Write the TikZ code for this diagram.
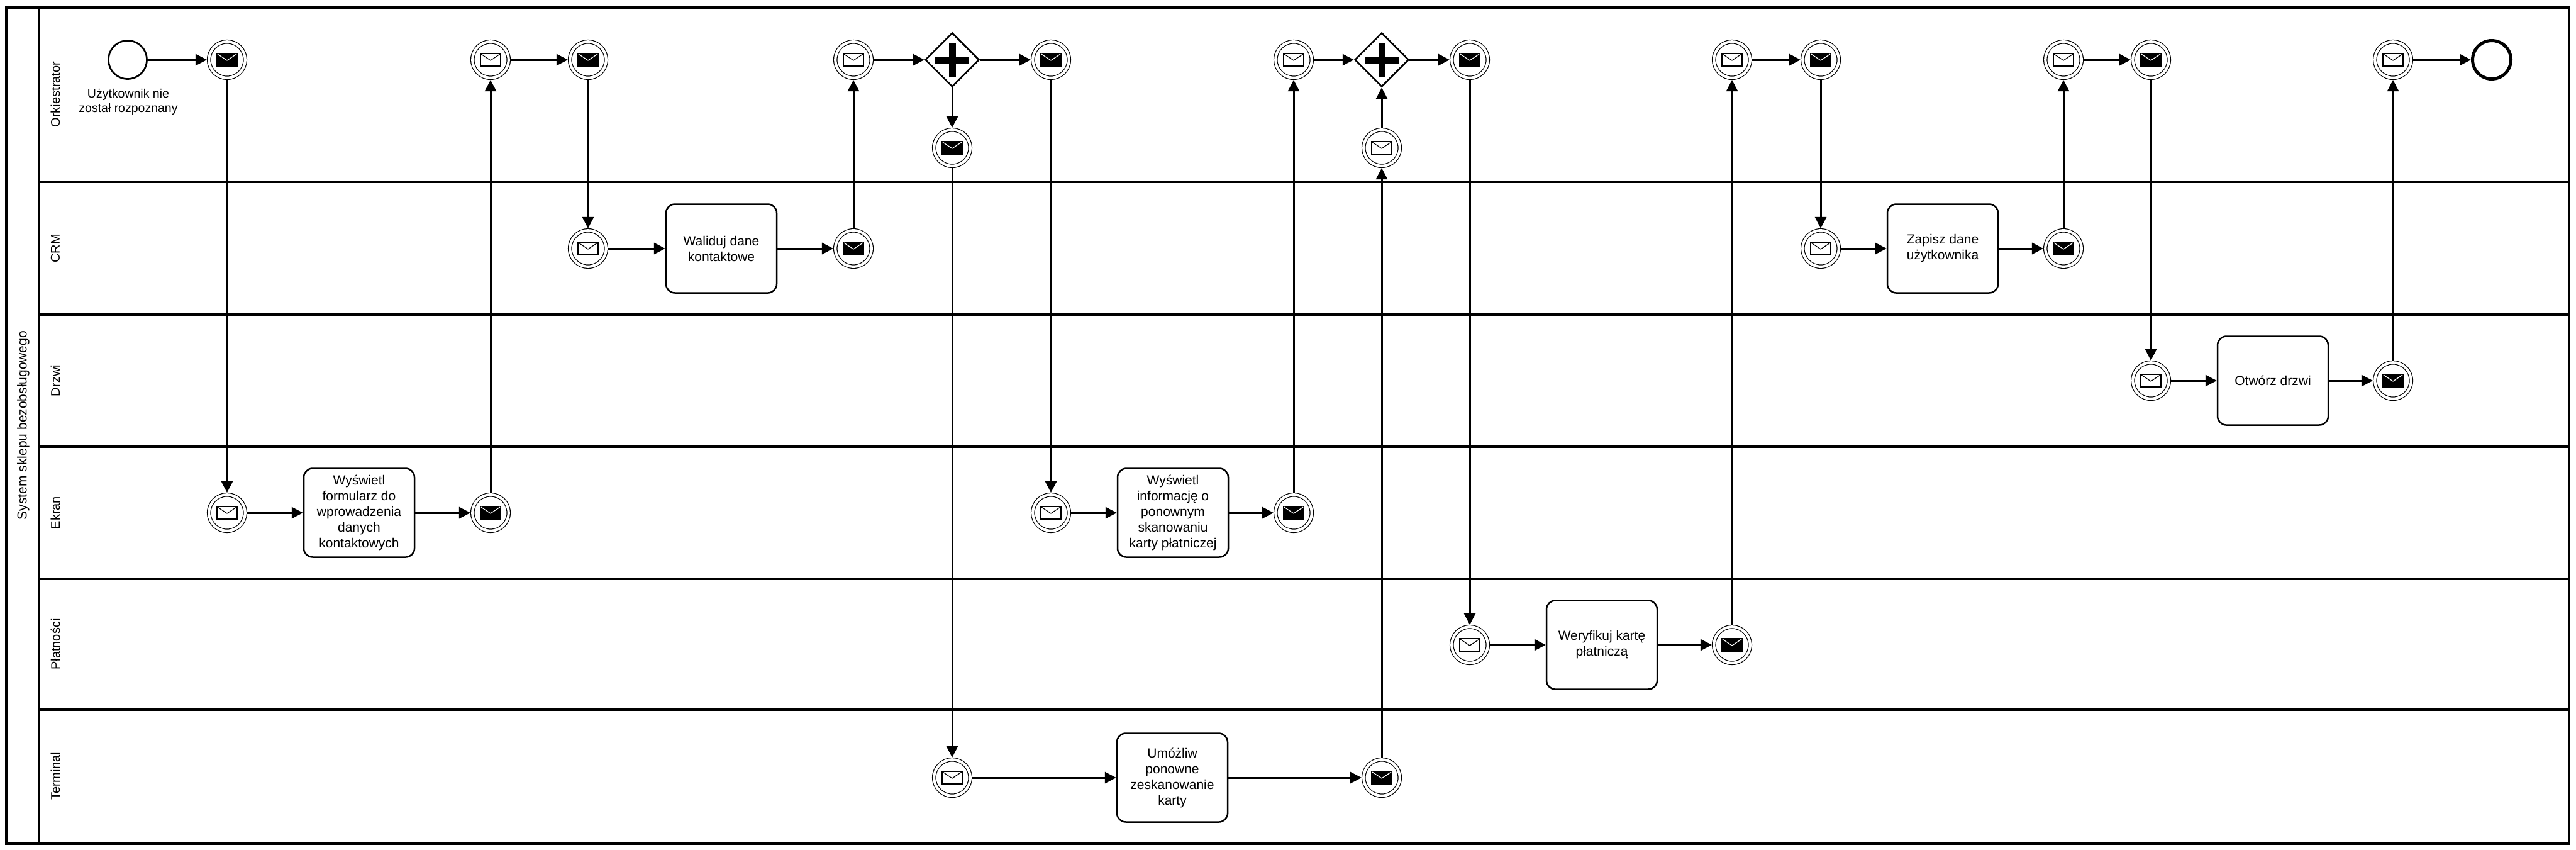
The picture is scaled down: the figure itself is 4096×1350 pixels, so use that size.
\documentclass[tikz,border=0pt]{standalone}
\usepackage{fontspec}
\setmainfont{Liberation Sans}
\usetikzlibrary{arrows.meta,shapes.geometric}
\newcommand{\envelope}[2]{%
  \begin{scope}[shift={(path picture bounding box.center)}]
    \filldraw[fill=#1,draw=black,line width=1.2pt] (-16,-10) rectangle (16,10);
    \draw[#2,line width=1.2pt] (-15,-9) -- (0,1) -- (15,-9);
  \end{scope}}
\newcommand{\gateplus}{%
  \begin{scope}[shift={(path picture bounding box.center)}]
    \fill[black] (-5.5,-27) rectangle (5.5,27);
    \fill[black] (-27,-5.5) rectangle (27,5.5);
  \end{scope}}
\tikzset{
  evt/.style={circle,draw,line width=1.2pt,double,double distance=4.2pt,minimum size=57.5pt,inner sep=0pt,outer sep=3.3pt},
  msgin/.style={evt,path picture={\envelope{white}{black}}},
  msgout/.style={evt,path picture={\envelope{black}{white}}},
  startevt/.style={circle,draw,line width=2.7pt,minimum size=61pt,inner sep=0pt},
  endevt/.style={circle,draw,line width=5pt,minimum size=61pt,inner sep=0pt},
  gate/.style={diamond,draw,line width=2.5pt,minimum width=86pt,minimum height=86pt,inner sep=0pt,path picture={\gateplus}},
  task/.style={rectangle,draw,rounded corners=14pt,line width=2.5pt,minimum width=176pt,minimum height=141pt,align=center,font=\fontsize{21}{25}\selectfont},
  flow/.style={-{Triangle[length=18pt,width=18pt]},line width=3pt},
  lanelbl/.style={rotate=90,font=\fontsize{20}{24}\selectfont},
  pool/.style={line width=3.5pt},
}
\begin{document}
\begin{tikzpicture}[x=1pt,y=-1pt]
  \useasboundingbox (0,0) rectangle (4096,1350);
  % pool and lanes
  \draw[pool,line width=4pt] (10,12) rectangle (4085,1341);
  \draw[pool] (62,12) -- (62,1341);
  \draw[pool] (62,289) -- (4085,289);
  \draw[pool] (62,500) -- (4085,500);
  \draw[pool] (62,710) -- (4085,710);
  \draw[pool] (62,920) -- (4085,920);
  \draw[pool] (62,1128) -- (4085,1128);
  \node[lanelbl,font=\fontsize{21}{25}\selectfont] (poollbl) at (37,676) {System sklepu bezobsługowego};
  \node[lanelbl] (lorch) at (88,150) {Orkiestrator};
  \node[lanelbl] (lcrm) at (88,395) {CRM};
  \node[lanelbl] (ldrzwi) at (88,605) {Drzwi};
  \node[lanelbl] (lekran) at (88,815) {Ekran};
  \node[lanelbl] (lplat) at (88,1024) {Płatności};
  \node[lanelbl] (lterm) at (88,1234) {Terminal};

  % Orkiestrator
  \node[startevt] (start) at (203,95) {};
  \node[align=center,font=\fontsize{19.5}{23}\selectfont] (startlbl) at (204,162) {Użytkownik nie\\został rozpoznany};
  \node[msgout] (o1) at (361,95) {};
  \node[msgin] (o2) at (780,95) {};
  \node[msgout] (o3) at (935,95) {};
  \node[msgin] (o4) at (1357,95) {};
  \node[gate] (g1) at (1514,95) {};
  \node[msgout] (o5) at (1671,95) {};
  \node[msgout] (o5b) at (1514,235) {};
  \node[msgin] (o6) at (2057,95) {};
  \node[gate] (g2) at (2197,95) {};
  \node[msgin] (o6b) at (2197,235) {};
  \node[msgout] (o7) at (2337,95) {};
  \node[msgin] (o8) at (2754,95) {};
  \node[msgout] (o9) at (2895,95) {};
  \node[msgin] (o10) at (3281,95) {};
  \node[msgout] (o11) at (3420,95) {};
  \node[msgin] (o12) at (3805,95) {};
  \node[endevt] (stop) at (3962,95) {};

  % CRM
  \node[msgin] (c1in) at (935,395) {};
  \node[task] (waliduj) at (1147,395) {Waliduj dane\\kontaktowe};
  \node[msgout] (c1out) at (1357,395) {};
  \node[msgin] (c2in) at (2895,395) {};
  \node[task] (zapisz) at (3089,395) {Zapisz dane\\użytkownika};
  \node[msgout] (c2out) at (3281,395) {};

  % Drzwi
  \node[msgin] (d1in) at (3420,605) {};
  \node[task] (otworz) at (3614,605) {Otwórz drzwi};
  \node[msgout] (d1out) at (3805,605) {};

  % Ekran
  \node[msgin] (e1in) at (361,815) {};
  \node[task] (formularz) at (571,815) {Wyświetl\\formularz do\\wprowadzenia\\danych\\kontaktowych};
  \node[msgout] (e1out) at (780,815) {};
  \node[msgin] (e2in) at (1671,815) {};
  \node[task] (informacja) at (1865,815) {Wyświetl\\informację o\\ponownym\\skanowaniu\\karty płatniczej};
  \node[msgout] (e2out) at (2057,815) {};

  % Platnosci
  \node[msgin] (p1in) at (2337,1025) {};
  \node[task] (weryfikuj) at (2547,1025) {Weryfikuj kartę\\płatniczą};
  \node[msgout] (p1out) at (2754,1025) {};

  % Terminal
  \node[msgin] (t1in) at (1514,1236) {};
  \node[task] (umozliw) at (1864,1236) {Umóżliw\\ponowne\\zeskanowanie\\karty};
  \node[msgout] (t1out) at (2197,1236) {};

  % sequence flows
  \draw[flow] (start) -- (o1);
  \draw[flow] (o2) -- (o3);
  \draw[flow] (o4) -- (g1);
  \draw[flow] (g1) -- (o5);
  \draw[flow] (g1) -- (o5b);
  \draw[flow] (o6) -- (g2);
  \draw[flow] (o6b) -- (g2);
  \draw[flow] (g2) -- (o7);
  \draw[flow] (o8) -- (o9);
  \draw[flow] (o10) -- (o11);
  \draw[flow] (o12) -- (stop);
  \draw[flow] (c1in) -- (waliduj);
  \draw[flow] (waliduj) -- (c1out);
  \draw[flow] (c2in) -- (zapisz);
  \draw[flow] (zapisz) -- (c2out);
  \draw[flow] (d1in) -- (otworz);
  \draw[flow] (otworz) -- (d1out);
  \draw[flow] (e1in) -- (formularz);
  \draw[flow] (formularz) -- (e1out);
  \draw[flow] (e2in) -- (informacja);
  \draw[flow] (informacja) -- (e2out);
  \draw[flow] (p1in) -- (weryfikuj);
  \draw[flow] (weryfikuj) -- (p1out);
  \draw[flow] (t1in) -- (umozliw);
  \draw[flow] (umozliw) -- (t1out);

  % message flows
  \draw[flow] (o1) -- (e1in);
  \draw[flow] (e1out) -- (o2);
  \draw[flow] (o3) -- (c1in);
  \draw[flow] (c1out) -- (o4);
  \draw[flow] (o5b) -- (t1in);
  \draw[flow] (o5) -- (e2in);
  \draw[flow] (e2out) -- (o6);
  \draw[flow] (t1out) -- (o6b);
  \draw[flow] (o7) -- (p1in);
  \draw[flow] (p1out) -- (o8);
  \draw[flow] (o9) -- (c2in);
  \draw[flow] (c2out) -- (o10);
  \draw[flow] (o11) -- (d1in);
  \draw[flow] (d1out) -- (o12);
\end{tikzpicture}
\end{document}
